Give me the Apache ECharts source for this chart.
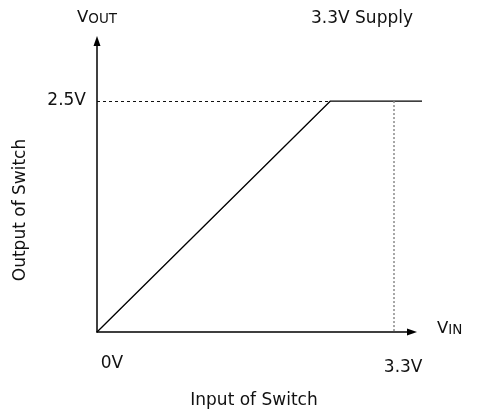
<!DOCTYPE html>
<html>
<head>
<meta charset="utf-8">
<script src="https://cdn.jsdelivr.net/npm/echarts@6/dist/echarts.min.js"></script>
<style>
  html, body { margin: 0; padding: 0; background: #fff; }
  #main { width: 483px; height: 412px; }
</style>
</head>
<body>
<div id="main"></div>
<script>
// transfer curve: output follows input, then clamps at 2.5V
var vinValues = [0, 2.6, 3.62];
var voutValues = [0, 2.5, 2.5];
var supplyV = 3.3;
var clampV = 2.5;
var xTicks = [0, 3.3];
var yTicks = [2.5];

var FONT = 'DejaVu Sans';

var myChart = echarts.init(document.getElementById('main'));

var curve = [];
for (var i = 0; i < vinValues.length; i++) {
    curve.push([vinValues[i], voutValues[i]]);
}

var nameRich = {
    v: { fontFamily: FONT, fontSize: 16.5, color: '#111', verticalAlign: 'bottom' },
    s: { fontFamily: FONT, fontSize: 13.5, color: '#111', verticalAlign: 'bottom' }
};

var option = {
    animation: false,
    textStyle: { fontFamily: FONT, color: '#111' },
    grid: [
        // visible axes (arrow tips stop before the flat line ends)
        { left: 97, right: 71, top: 41, bottom: 80, outerBoundsMode: 'none' },
        // same scale, a bit wider, for the curve itself
        { left: 97, right: 61, top: 41, bottom: 80, outerBoundsMode: 'none' }
    ],
    xAxis: [
        {
            type: 'value',
            gridIndex: 0,
            min: 0,
            max: 3.51,
            name: '{v|V}{s|IN}',
            nameLocation: 'end',
            nameGap: 25,
            nameTextStyle: { padding: [0, 0, 7, 0], rich: nameRich },
            axisLine: {
                lineStyle: { color: '#000', width: 1.5 },
                symbol: ['none', 'triangle'],
                symbolSize: [7, 10]
            },
            axisTick: { show: false },
            splitLine: { show: false },
            axisLabel: {
                customValues: xTicks,
                margin: 23,
                formatter: function (v) {
                    return v === 0 ? '{a|' + v + 'V}' : '{b|' + v + 'V}';
                },
                rich: {
                    a: { fontFamily: FONT, fontSize: 17, color: '#111', padding: [0, 0, 0, 30] },
                    b: { fontFamily: FONT, fontSize: 17, color: '#111', padding: [4, 0, 0, 20] }
                }
            }
        },
        { type: 'value', gridIndex: 1, min: 0, max: 3.62, show: false }
    ],
    yAxis: [
        {
            type: 'value',
            gridIndex: 0,
            min: 0,
            max: 3.15,
            name: '{v|V}{s|OUT}',
            nameLocation: 'end',
            nameGap: 16,
            nameTextStyle: { padding: [0, 0, -1, 0], rich: nameRich },
            axisLine: {
                show: true,
                lineStyle: { color: '#000', width: 1.5 },
                symbol: ['none', 'triangle'],
                symbolSize: [7, 10]
            },
            axisTick: { show: false },
            splitLine: { show: false },
            axisLabel: {
                customValues: yTicks,
                margin: 11,
                fontFamily: FONT,
                fontSize: 17,
                color: '#111',
                padding: [8, 0, 0, 0],
                formatter: function (v) { return v + 'V'; }
            }
        },
        { type: 'value', gridIndex: 1, min: 0, max: 3.15, show: false }
    ],
    graphic: [
        {
            type: 'text',
            left: 311,
            top: 10,
            style: { text: '3.3V Supply', fontFamily: FONT, fontSize: 17, fill: '#111' }
        },
        {
            type: 'text',
            x: 254,
            y: 401,
            style: { text: 'Input of Switch', fontFamily: FONT, fontSize: 17, fill: '#111', align: 'center', verticalAlign: 'middle' }
        },
        {
            type: 'text',
            x: 21,
            y: 210,
            rotation: Math.PI / 2,
            style: { text: 'Output of Switch', fontFamily: FONT, fontSize: 17, fill: '#111', align: 'center', verticalAlign: 'middle' }
        }
    ],
    series: [
        {
            type: 'line',
            xAxisIndex: 1,
            yAxisIndex: 1,
            data: curve,
            symbol: 'none',
            lineStyle: { color: '#000', width: 1.3 },
            markLine: {
                silent: true,
                symbol: ['none', 'none'],
                label: { show: false },
                data: [
                    [
                        { coord: [0, clampV], lineStyle: { color: '#111', width: 1, type: [3, 3] } },
                        { coord: [vinValues[1], clampV] }
                    ],
                    [
                        { coord: [supplyV, clampV], lineStyle: { color: '#888', width: 1.5, type: [2, 2] } },
                        { coord: [supplyV, 0] }
                    ]
                ]
            }
        }
    ]
};
myChart.setOption(option);
</script>
</body>
</html>
